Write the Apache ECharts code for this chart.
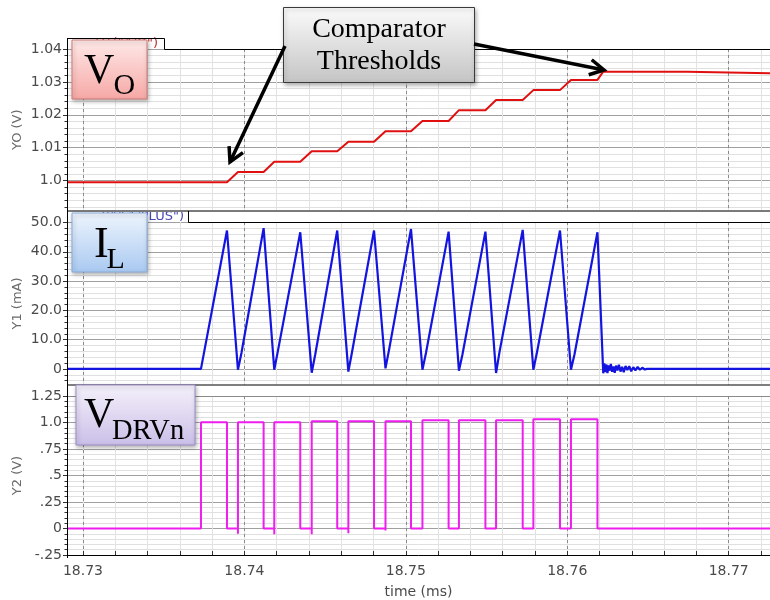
<!DOCTYPE html>
<html>
<head>
<meta charset="utf-8">
<title>Comparator thresholds</title>
<script src="https://cdn.jsdelivr.net/npm/echarts@6/dist/echarts.min.js"></script>
<style>
  html, body { margin: 0; padding: 0; background: #fff; }
  #chart { width: 770px; height: 600px; }
</style>
</head>
<body>
<div id="chart"></div>
<script>
// time window of the plot (ms)
var tMin = 18.72901, tMax = 18.77256;
var timeTicks = [18.73, 18.74, 18.75, 18.76, 18.77];

// VDRVn edges (ms)
var drvOn  = [18.73731, 18.73960, 18.74185, 18.74417, 18.74644, 18.74874, 18.75103, 18.75329, 18.75559, 18.75790, 18.76023];
var drvOff = [18.73892, 18.74119, 18.74346, 18.74575, 18.74803, 18.75032, 18.75265, 18.75493, 18.75724, 18.75955, 18.76187];
var drvHigh = [1.003, 1.003, 1.003, 1.012, 1.012, 1.012, 1.021, 1.021, 1.021, 1.030, 1.030];
var drvDip  = [0, -0.05, -0.055, -0.055, -0.045, -0.02, 0, 0, 0, 0, 0];

// inductor current (mA)
var ilPeak   = [47.3, 48.1, 46.7, 47.3, 47.3, 47.8, 46.9, 46.9, 47.5, 47.3, 46.7];
var ilValley = [-0.3, -0.3, -1.3, -0.9, 0.2, -0.3, -0.6, -1.4, -0.3, -0.3];
var ilKinkT  = [18.73982, 18.74207, 18.74439, 18.74666, 18.74896, 18.75125, 18.75351, 18.75581, 18.75812, 18.76045];
var ilKinkV  = [5.5, 6.0, 5.0, 5.5, 6.5, 5.5, 5.0, 6.0, 5.5, 5.0];
var ilOffT = 18.76223, ilOffV = -1.5;
var ringT = [18.76230, 18.76236, 18.76242, 18.76249, 18.76256, 18.76263, 18.76270, 18.76278, 18.76286,
             18.76294, 18.76302, 18.76311, 18.76320, 18.76330, 18.76340, 18.76350, 18.76361, 18.76372,
             18.76384, 18.76396, 18.76409, 18.76422, 18.76436, 18.76450, 18.76465, 18.76480, 18.76494];
var ringV = [1.9, -1.1, 1.5, -1.4, 1.2, -0.6, 1.7, -1.0, 0.8, -1.3, 1.1, -0.5, 1.4, -0.9,
             0.7, -1.1, 1.0, -0.4, 0.9, -0.8, 0.6, -0.5, 0.7, -0.3, 0.4, -0.2, 0];

// output voltage plateaus (V)
var voLevel = [0.9995, 1.0026, 1.0057, 1.0089, 1.0118, 1.0150, 1.0181, 1.0214, 1.0245, 1.0275, 1.0306, 1.0331];
var voSettleT = 18.76743, voSettle = 1.0326;

// y tick labels
var voTicks = [1.0, 1.01, 1.02, 1.03, 1.04];
var voLabels = ['1.0', '1.01', '1.02', '1.03', '1.04'];
var ilTicks = [0, 10, 20, 30, 40, 50];
var ilLabels = ['0', '10.0', '20.0', '30.0', '40.0', '50.0'];
var drvTicks = [-0.25, 0, 0.25, 0.5, 0.75, 1.0, 1.25];
var drvLabels = ['-.25', '0', '.25', '.5', '.75', '1.0', '1.25'];

function steps(a, b, step) {
  var out = [];
  for (var k = Math.round(a / step); k * step <= b + step * 1e-6; k++) out.push(+(k * step).toFixed(6));
  return out;
}
var timeMinor = steps(18.73, 18.772, 0.002);
var voMinor = steps(0.992, 1.04, 0.002);
var ilMinor = steps(-4, 50, 2);
var drvMinor = steps(-0.25, 1.25, 0.05);

// build the traces
var voData = [[tMin, voLevel[0]], [drvOff[0], voLevel[0]]];
for (var i = 0; i < drvOff.length; i++) {
  var endT = i < drvOff.length - 1 ? drvOn[i + 1] : ilOffT;
  voData.push([endT, voLevel[i + 1]]);
  if (i < drvOff.length - 1) voData.push([drvOff[i + 1], voLevel[i + 1]]);
}
voData.push([voSettleT, voLevel[11]], [voSettleT, voSettle], [tMax, voSettle]);

var ilData = [[tMin, 0], [drvOn[0], 0]];
for (var i = 0; i < drvOff.length; i++) {
  ilData.push([drvOff[i], ilPeak[i]]);
  if (i < drvOff.length - 1) {
    ilData.push([drvOn[i + 1], ilValley[i]]);
    ilData.push([ilKinkT[i], ilKinkV[i]]);
  }
}
ilData.push([ilOffT, ilOffV]);
for (var i = 0; i < ringT.length; i++) ilData.push([ringT[i], ringV[i]]);
ilData.push([tMax, 0]);

var drvData = [[tMin, 0]];
for (var i = 0; i < drvOn.length; i++) {
  drvData.push([drvOn[i], 0]);
  if (drvDip[i]) drvData.push([drvOn[i], drvDip[i]]);
  drvData.push([drvOn[i], drvHigh[i]], [drvOff[i], drvHigh[i]], [drvOff[i], 0]);
}
drvData.push([tMax, 0]);

var chart = echarts.init(document.getElementById('chart'));

var lblColor = '#4a4a4a';
var font = 'DejaVu Sans';
var grids = [
  { left: 67, right: 0, top: 49, height: 161.5 },
  { left: 67, right: 0, top: 222, height: 163 },
  { left: 67, right: 0, top: 396, height: 162 }
];
var yRanges = [[0.9909, 1.04], [-5.5, 50.2], [-0.25, 1.25]];
var yMajor = [voTicks, ilTicks, drvTicks];
var yLabelText = [voLabels, ilLabels, drvLabels];
var yMinor = [voMinor, ilMinor, drvMinor];
var yNames = ['YO (V)', 'Y1 (mA)', 'Y2 (V)'];

var xAxes = [], yAxes = [];
for (var g = 0; g < 3; g++) {
  var last = g === 2;
  xAxes.push({
    type: 'value', gridIndex: g, position: 'bottom', min: tMin, max: tMax,
    axisLine: { show: false, onZero: false },
    axisTick: { show: last, inside: true, length: 4, customValues: timeMinor, lineStyle: { color: '#333' } },
    axisLabel: { show: false },
    splitLine: { show: true, lineStyle: { color: '#e2e2e2', width: 1 } }
  });
  xAxes.push({
    type: 'value', gridIndex: g, position: 'bottom', min: tMin, max: tMax,
    axisLine: { show: last, onZero: false, lineStyle: { color: '#000', width: 1 } },
    axisTick: { show: false, customValues: timeTicks },
    axisLabel: {
      show: last, customValues: timeTicks, color: lblColor, fontSize: 14, fontFamily: font, margin: 9,
      formatter: function (v) { return v.toFixed(2); }
    },
    splitLine: { show: true, lineStyle: { color: '#8a8a8a', width: 1, type: [3, 3] } },
    name: last ? 'time (ms)' : '', nameLocation: 'middle', nameGap: 30,
    nameTextStyle: { color: lblColor, fontSize: 14, fontFamily: font }
  });
  (function (g) {
    yAxes.push({
      type: 'value', gridIndex: g, position: 'left', min: yRanges[g][0], max: yRanges[g][1],
      axisLine: { show: false, onZero: false },
      axisTick: { show: true, length: 2.5, customValues: yMinor[g], lineStyle: { color: '#333' } },
      axisLabel: { show: false },
      splitLine: { show: true, lineStyle: { color: '#e0e0e0', width: 1 } }
    });
    yAxes.push({
      type: 'value', gridIndex: g, position: 'left', min: yRanges[g][0], max: yRanges[g][1],
      axisLine: { show: true, onZero: false, lineStyle: { color: '#000', width: 1 } },
      axisTick: { show: true, length: 4, customValues: yMajor[g], lineStyle: { color: '#333' } },
      axisLabel: {
        customValues: yMajor[g], color: lblColor, fontSize: 14, fontFamily: font, margin: 5,
        formatter: function (v) {
          for (var k = 0; k < yMajor[g].length; k++) {
            if (Math.abs(yMajor[g][k] - v) < 1e-9) return yLabelText[g][k];
          }
          return '';
        }
      },
      splitLine: { show: true, lineStyle: { color: '#a0a0a0', width: 1 } },
      name: yNames[g], nameLocation: 'middle', nameRotate: 90, nameGap: 43, nameMoveOverlap: false,
      nameTextStyle: { color: '#6a6a6a', fontSize: 13, fontFamily: font }
    });
  })(g);
}

// annotation helpers
function grad(top, bottom) {
  return new echarts.graphic.LinearGradient(0, 0, 0, 1, [
    { offset: 0, color: top }, { offset: 1, color: bottom }
  ]);
}
function serif(x, baseline, size, text, align) {
  return {
    type: 'text', x: x, y: baseline - 0.3375 * size, z: 120,
    style: { text: text, fontSize: size, fontFamily: 'Liberation Serif', fill: '#000',
             align: align || 'left', verticalAlign: 'middle' }
  };
}
function box(x, y, w, h, top, bottom, stroke) {
  return {
    type: 'rect', z: 110, shape: { x: x, y: y, width: w, height: h },
    style: { fill: grad(top, bottom), stroke: stroke, lineWidth: 1,
             shadowBlur: 4, shadowOffsetX: 1, shadowOffsetY: 2, shadowColor: 'rgba(0,0,0,0.3)' }
  };
}
function arrow(x0, y0, x1, y1) {
  var a = Math.atan2(y1 - y0, x1 - x0), L = 16, th = 0.5;
  var w1 = [x1 - L * Math.cos(a - th), y1 - L * Math.sin(a - th)];
  var w2 = [x1 - L * Math.cos(a + th), y1 - L * Math.sin(a + th)];
  return [
    { type: 'polyline', z: 130, shape: { points: [[x0, y0], [x1, y1]] }, style: { stroke: '#000', lineWidth: 3.5, fill: null } },
    { type: 'polyline', z: 130, shape: { points: [w1, [x1, y1], w2] }, style: { stroke: '#000', lineWidth: 3.5, fill: null, lineJoin: 'miter' } }
  ];
}

var graphics = [
  // panel header tabs / separators
  { type: 'rect', z: 100, shape: { x: 68, y: 38.5, width: 96, height: 10.5 }, style: { fill: '#fff' } },
  { type: 'text', x: 158, y: 44, z: 101, style: { text: 'VT("/VO")', fontSize: 13, fontFamily: font, fill: '#c03030', align: 'right', verticalAlign: 'middle' } },
  { type: 'polyline', z: 102, shape: { points: [[67.5, 38.5], [164.5, 38.5], [164.5, 49.5], [770, 49.5]] }, style: { stroke: '#000', lineWidth: 1, fill: null } },

  { type: 'rect', z: 100, shape: { x: 68, y: 211, width: 702, height: 11 }, style: { fill: '#fff' } },
  { type: 'text', x: 184, y: 217, z: 101, style: { text: 'I("/L1/PLUS")', fontSize: 13, fontFamily: font, fill: '#4848b8', align: 'right', verticalAlign: 'middle' } },
  { type: 'line', z: 102, shape: { x1: 67, y1: 211, x2: 770, y2: 211 }, style: { stroke: '#7a7a7a', lineWidth: 2 } },
  { type: 'polyline', z: 102, shape: { points: [[188.5, 211], [188.5, 222.5], [770, 222.5]] }, style: { stroke: '#000', lineWidth: 1, fill: null } },

  { type: 'rect', z: 100, shape: { x: 68, y: 385, width: 702, height: 11 }, style: { fill: '#fff' } },
  { type: 'line', z: 102, shape: { x1: 67, y1: 385, x2: 770, y2: 385 }, style: { stroke: '#555', lineWidth: 1.5 } },
  { type: 'line', z: 102, shape: { x1: 67, y1: 396.5, x2: 770, y2: 396.5 }, style: { stroke: '#8a8a8a', lineWidth: 1 } },
  { type: 'line', z: 103, shape: { x1: 67.5, y1: 38, x2: 67.5, y2: 558 }, style: { stroke: '#000', lineWidth: 1 } },

  // trace labels
  box(72, 40, 75, 59, '#fee9e8', '#f6a8a5', '#cf7c78'),
  serif(84, 86, 42, 'V'), serif(113.5, 96, 30, 'O'),
  box(72, 213, 75, 59, '#eef5fd', '#a9c9f1', '#86acdc'),
  serif(94, 260, 44, 'I'), serif(106.5, 270, 30, 'L'),
  box(76, 385, 119, 60, '#f5f1fb', '#cabfe8', '#9d8cc8'),
  serif(84, 430, 42, 'V'), serif(112, 441.5, 28.5, 'DRVn'),

  // comparator callout
  box(283.5, 7.5, 191, 75, '#fbfbfb', '#c4c4c4', '#3a3a3a'),
  serif(379, 39.5, 28, 'Comparator', 'center'),
  serif(379, 71.5, 28, 'Thresholds', 'center')
].concat(arrow(285, 46, 230, 162), arrow(474, 44, 604, 70));

chart.setOption({
  animation: false,
  backgroundColor: '#fff',
  grid: grids,
  xAxis: xAxes,
  yAxis: yAxes,
  series: [
    { type: 'line', name: 'VO', xAxisIndex: 1, yAxisIndex: 1, data: voData, showSymbol: false,
      lineStyle: { color: '#e01010', width: 2 }, itemStyle: { color: '#e01010' } },
    { type: 'line', name: 'IL', xAxisIndex: 3, yAxisIndex: 3, data: ilData, showSymbol: false,
      lineStyle: { color: '#1414e0', width: 2.2 }, itemStyle: { color: '#1414e0' } },
    { type: 'line', name: 'VDRVn', xAxisIndex: 5, yAxisIndex: 5, data: drvData, showSymbol: false,
      lineStyle: { color: '#ee1fee', width: 2 }, itemStyle: { color: '#ee1fee' } }
  ],
  graphic: graphics
});
</script>
</body>
</html>
